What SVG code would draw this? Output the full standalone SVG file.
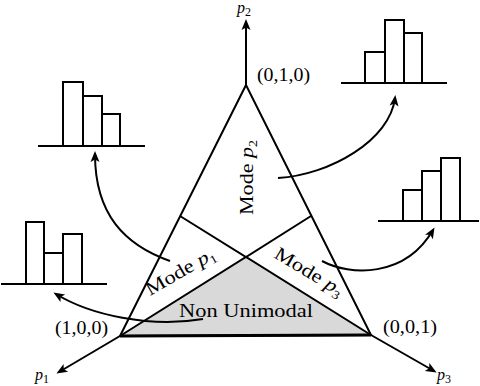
<svg xmlns="http://www.w3.org/2000/svg" width="480" height="386" viewBox="0 0 480 386">
<style>
.ln{fill:none;stroke:#000;stroke-width:2;stroke-linejoin:miter}
.bar{fill:#fff;stroke:#000;stroke-width:2}
.t{font-family:'Liberation Serif','Times New Roman',serif;font-size:19px;fill:#000}
.pl{font-size:16px}
.it{font-style:italic}
.sub{font-size:12px;font-style:normal}
</style>
<defs>
<marker id="ah" markerUnits="userSpaceOnUse" markerWidth="14" markerHeight="12" viewBox="-1 -6 14 12" refX="8" refY="0" orient="auto">
<path d="M0,-4.5 L11,0 L0,4.5 L2.5,0 Z" fill="#000"/>
</marker>
</defs>
<g id="region-nonunimodal">
<polygon points="120,336 246,257 371,335" fill="#d9d9d9" stroke="none"/>
</g>
<g id="simplex">
<polygon points="246,85 120,336 371,335" class="ln"/>
<line x1="120" y1="336" x2="371" y2="335" stroke="#000" stroke-width="3"/>
<polyline points="180,216 246,257 311,216" class="ln"/>
<polyline points="120,336 246,257 371,335" class="ln"/>
</g>
<g id="connectors">
<line x1="246" y1="85" x2="246" y2="22" class="ln" marker-end="url(#ah)"/>
<line x1="120" y1="336" x2="59" y2="372" class="ln" marker-end="url(#ah)"/>
<line x1="371" y1="335" x2="434" y2="371" class="ln" marker-end="url(#ah)"/>
<path d="M170,261 C125,245 95,215 95,154" class="ln" marker-end="url(#ah)"/>
<path d="M278,178 C330,175 390,140 395,98" class="ln" marker-end="url(#ah)"/>
<path d="M322,261 C350,276 405,278 433,230" class="ln" marker-end="url(#ah)"/>
<path d="M203,319 C150,328 90,315 56,294" class="ln" marker-end="url(#ah)"/>
</g>
<g id="hist-mode-p1-top">
<line x1="38" y1="146" x2="145" y2="146" class="ln"/>
<rect x="63" y="82" width="20" height="64" class="bar"/>
<rect x="83" y="96" width="19" height="50" class="bar"/>
<rect x="102" y="114" width="18" height="32" class="bar"/>
</g>
<g id="hist-mode-p2">
<line x1="341" y1="83" x2="447" y2="83" class="ln"/>
<rect x="365" y="52" width="20" height="31" class="bar"/>
<rect x="385" y="20" width="19" height="63" class="bar"/>
<rect x="404" y="33" width="18" height="50" class="bar"/>
</g>
<g id="hist-mode-p3">
<line x1="378" y1="221" x2="479" y2="221" class="ln"/>
<rect x="403" y="190" width="19" height="31" class="bar"/>
<rect x="422" y="171" width="19" height="50" class="bar"/>
<rect x="441" y="158" width="19" height="63" class="bar"/>
</g>
<g id="hist-nonunimodal">
<line x1="1" y1="284" x2="107" y2="284" class="ln"/>
<rect x="26" y="222" width="18" height="62" class="bar"/>
<rect x="44" y="253" width="19" height="31" class="bar"/>
<rect x="63" y="234" width="19" height="50" class="bar"/>
</g>
<g id="labels">
<text class="t pl it" x="237" y="13">p<tspan class="sub" dy="3">2</tspan></text>
<text class="t pl it" x="35" y="380">p<tspan class="sub" dy="3">1</tspan></text>
<text class="t pl it" x="437" y="380">p<tspan class="sub" dy="3">3</tspan></text>
<text class="t" x="257" y="81" textLength="53" lengthAdjust="spacingAndGlyphs">(0,1,0)</text>
<text class="t" x="55" y="334" textLength="53" lengthAdjust="spacingAndGlyphs">(1,0,0)</text>
<text class="t" x="383" y="333" textLength="54" lengthAdjust="spacingAndGlyphs">(0,0,1)</text>
<text class="t" x="179" y="317" textLength="134" lengthAdjust="spacingAndGlyphs">Non Unimodal</text>
<text class="t" transform="translate(253,215) rotate(-90)" textLength="75" lengthAdjust="spacingAndGlyphs">Mode <tspan class="it">p</tspan><tspan class="sub" dy="4">2</tspan></text>
<text class="t" transform="translate(150,296) rotate(-30)" textLength="77" lengthAdjust="spacingAndGlyphs">Mode <tspan class="it">p</tspan><tspan class="sub" dy="4">1</tspan></text>
<text class="t" transform="translate(273,257) rotate(31)" textLength="77" lengthAdjust="spacingAndGlyphs">Mode <tspan class="it">p</tspan><tspan class="sub" dy="4">3</tspan></text>
</g>
</svg>
